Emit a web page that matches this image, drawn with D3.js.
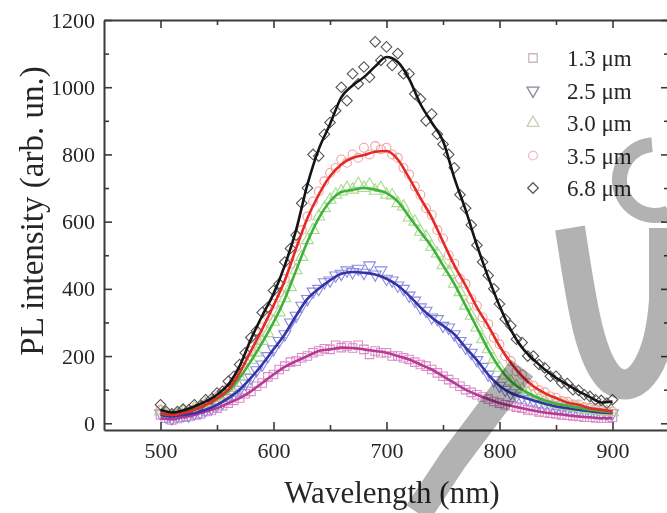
<!DOCTYPE html>
<html>
<head>
<meta charset="utf-8">
<script src="https://cdn.jsdelivr.net/npm/d3@7/dist/d3.min.js"></script>
<style>
  html, body { margin: 0; padding: 0; background: #fff; }
  svg { display: block; }
</style>
</head>
<body>
<svg id="chart" width="667" height="513"></svg>
<script>
// PL spectra for five layer thicknesses: measured points (every 5 nm) and smoothed fits (every 10 nm)
const series = ["1.3 μm", "2.5 μm", "3.0 μm", "3.5 μm", "6.8 μm"];
const xTicks = [500, 600, 700, 800, 900];
const yTicks = [0, 200, 400, 600, 800, 1000, 1200];

const pointWl = d3.range(500, 901, 5);
const fitWl = d3.range(500, 901, 10);

// measured points
const pts13 = [25,15,10,14,18,20,25,28,35,38,45,52,60,68,75,88,95,110,120,138,145,160,170,182,185,195,200,210,215,222,220,232,225,230,224,232,220,205,215,210,210,200,200,195,190,182,175,170,160,150,140,130,120,110,100,92,85,78,72,65,60,55,52,48,45,40,38,34,32,30,28,25,24,22,20,18,18,16,15,15,18];
const pts25 = [30,20,15,22,25,24,30,32,40,45,55,62,75,85,100,118,135,158,175,200,220,245,265,300,320,350,370,392,400,420,425,440,445,455,450,460,448,470,443,455,430,425,410,400,380,365,345,335,315,310,290,285,265,245,225,210,188,168,145,128,112,100,90,82,78,72,68,62,58,54,50,48,45,42,40,38,36,34,32,30,30];
const pts30 = [35,25,22,28,34,36,44,46,58,62,75,82,98,112,138,158,188,210,245,268,302,330,372,405,455,495,545,575,615,640,665,680,690,700,695,712,700,710,692,700,680,678,655,645,612,600,570,555,525,505,470,450,415,390,350,320,285,250,220,190,165,142,125,110,100,90,82,74,68,62,58,54,52,48,46,42,40,38,36,34,33];
const pts35 = [40,28,22,28,30,35,42,48,58,62,78,88,105,125,150,180,215,250,285,320,355,390,430,475,525,575,615,660,690,720,745,760,785,775,800,790,820,800,825,815,820,800,790,760,740,705,680,640,620,575,550,500,475,430,415,370,350,315,295,255,235,200,185,155,145,120,112,98,92,80,76,66,64,56,56,48,46,42,40,36,35];
const pts68 = [55,35,28,35,42,40,55,52,70,72,90,95,125,140,175,210,255,275,330,345,395,415,480,520,560,655,700,800,795,860,895,930,1000,960,1040,1010,1060,1030,1135,1080,1120,1065,1100,1040,1040,980,965,900,920,860,830,800,760,680,640,590,530,480,440,400,355,310,290,250,240,200,200,175,165,140,140,120,118,100,98,85,80,70,68,60,70];

// smoothed fits
const fit13 = [15,12,18,25,35,45,60,75,95,120,145,168,185,200,215,220,225,224,220,215,210,200,190,175,160,140,120,100,85,72,60,52,45,38,32,28,24,20,18,15,15];
const fit25 = [25,20,25,30,40,55,75,100,135,175,220,265,320,370,400,425,445,450,448,443,430,410,380,345,315,290,265,225,188,145,112,90,78,68,58,50,45,40,36,32,30];
const fit30 = [30,25,32,42,55,72,95,135,185,240,300,370,455,540,610,660,688,695,700,695,685,660,615,570,525,470,415,350,285,220,165,125,100,82,68,58,52,46,40,36,33];
const fit35 = [30,25,30,40,55,75,100,150,215,280,350,425,520,610,680,735,770,790,798,808,810,785,730,670,612,540,470,410,345,290,230,180,140,110,90,75,62,55,45,40,35];
const fit68 = [40,32,38,50,65,85,115,170,250,320,385,470,575,710,815,890,970,1005,1030,1062,1090,1075,1025,950,895,840,730,635,530,435,350,278,225,190,160,135,115,95,78,62,65];

const FONT = '"Liberation Serif", "DejaVu Serif", "Noto Serif", "Times New Roman", serif';
const INK = "#262626";

const W = 667, H = 513;
const x = d3.scaleLinear().domain([450, 950]).range([104, 669]);
const y = d3.scaleLinear().domain([-20, 1200]).range([430, 20]);

const svg = d3.select("#chart");
svg.append("rect").attr("width", W).attr("height", H).attr("fill", "#fff");

const square = d3.symbolSquare;
const styles = [
  { name: series[0], pts: pts13, fit: fit13, line: "#b43a92", mark: "#dc8cc8", shape: square, size: 72, rot: 0, legend: "#cdb6c4" },
  { name: series[1], pts: pts25, fit: fit25, line: "#3434a6", mark: "#8c8ce0", shape: d3.symbolTriangle, size: 62, rot: 180, legend: "#8a8a96" },
  { name: series[2], pts: pts30, fit: fit30, line: "#3fb23a", mark: "#a6dc8e", shape: d3.symbolTriangle, size: 62, rot: 0, legend: "#c6d2b6" },
  { name: series[3], pts: pts35, fit: fit35, line: "#e42a24", mark: "#f4a2a2", shape: d3.symbolCircle, size: 62, rot: 0, legend: "#efc0cc" },
  { name: series[4], pts: pts68, fit: fit68, line: "#141414", mark: "#555555", shape: square, size: 56, rot: 45, legend: "#5c5c5c" }
];

// clip to plotting frame
svg.append("clipPath").attr("id", "plotClip")
  .append("rect").attr("x", 104).attr("y", 20).attr("width", 565).attr("height", 410);

const plot = svg.append("g").attr("clip-path", "url(#plotClip)");

// open markers
styles.forEach(s => {
  const sym = d3.symbol().type(s.shape).size(s.size);
  plot.append("g").selectAll("path")
    .data(s.pts.map((v, i) => [pointWl[i], v]))
    .join("path")
    .attr("d", sym)
    .attr("transform", d => `translate(${x(d[0])},${y(d[1])}) rotate(${s.rot})`)
    .attr("fill", "none")
    .attr("stroke", s.mark)
    .attr("stroke-width", 1.1);
});

// fitted curves
const lineGen = d3.line().x(d => x(d[0])).y(d => y(d[1])).curve(d3.curveMonotoneX);
styles.forEach(s => {
  plot.append("path")
    .datum(s.fit.map((v, i) => [fitWl[i], v]))
    .attr("d", lineGen)
    .attr("fill", "none")
    .attr("stroke", s.line)
    .attr("stroke-width", 2.6)
    .attr("stroke-linejoin", "round");
});

// axes: inward ticks on all four sides
const xMinor = [550, 650, 750, 850];
const yMinor = [100, 300, 500, 700, 900, 1100];
const axisColor = "#3a3a3a";
const fmt = d3.format("d");

function styleAxis(g) {
  g.attr("font-family", FONT);
  g.selectAll("path.domain").attr("stroke", axisColor).attr("stroke-width", 2);
  g.selectAll(".tick line").attr("stroke", axisColor).attr("stroke-width", 1.6);
  g.selectAll(".tick text").attr("font-size", 22).attr("fill", INK).attr("font-family", FONT);
}

const gx = svg.append("g").attr("transform", "translate(0,430)")
  .call(d3.axisBottom(x).tickValues(xTicks).tickFormat(fmt).tickSize(-8).tickSizeOuter(0).tickPadding(12));
gx.append("g").call(d3.axisBottom(x).tickValues(xMinor).tickSize(-5).tickFormat(""))
  .select("path.domain").remove();
styleAxis(gx);

const gxTop = svg.append("g").attr("transform", "translate(0,20)")
  .call(d3.axisTop(x).tickValues(xTicks).tickSize(-8).tickSizeOuter(0).tickFormat(""));
gxTop.append("g").call(d3.axisTop(x).tickValues(xMinor).tickSize(-5).tickFormat(""))
  .select("path.domain").remove();
styleAxis(gxTop);

const gy = svg.append("g").attr("transform", "translate(104,0)")
  .call(d3.axisLeft(y).tickValues(yTicks).tickFormat(fmt).tickSize(-8).tickSizeOuter(0).tickPadding(9));
gy.append("g").call(d3.axisLeft(y).tickValues(yMinor).tickSize(-5).tickFormat(""))
  .select("path.domain").remove();
styleAxis(gy);

const gyRight = svg.append("g").attr("transform", "translate(669,0)")
  .call(d3.axisRight(y).tickValues(yTicks).tickSize(-8).tickSizeOuter(0).tickFormat(""));
gyRight.append("g").call(d3.axisRight(y).tickValues(yMinor).tickSize(-5).tickFormat(""))
  .select("path.domain").remove();
styleAxis(gyRight);

// axis titles
svg.append("text")
  .attr("x", 392).attr("y", 503)
  .attr("text-anchor", "middle")
  .attr("font-family", FONT).attr("fill", INK)
  .attr("font-size", 31)
  .text("Wavelength (nm)");

svg.append("text")
  .attr("transform", "translate(43,211) rotate(-90)")
  .attr("text-anchor", "middle")
  .attr("font-family", FONT).attr("fill", INK)
  .attr("font-size", 33)
  .text("PL intensity (arb. un.)");

// legend
const legend = svg.append("g");
styles.forEach((s, i) => {
  const cy = 58 + i * 32.5;
  const sym = d3.symbol().type(s.shape).size(s.size);
  legend.append("path")
    .attr("d", sym)
    .attr("transform", `translate(533,${cy}) rotate(${s.rot})`)
    .attr("fill", "none")
    .attr("stroke", s.legend)
    .attr("stroke-width", 1.3);
  legend.append("text")
    .attr("x", 567).attr("y", cy + 8)
    .attr("font-family", FONT).attr("fill", INK)
    .attr("font-size", 23)
    .text(s.name);
});

// grey stamp strokes laid over the figure
const STAMP = "#b2b2b2";
const stamp = svg.append("g")
  .style("mix-blend-mode", "multiply")
  .attr("fill", "none")
  .attr("stroke", STAMP)
  .attr("stroke-linecap", "butt");
// hook at the top right
stamp.append("path")
  .attr("transform", "translate(655,180)")
  .attr("stroke", "none").attr("fill", STAMP)
  .attr("d", d3.arc().innerRadius(28).outerRadius(43).startAngle(2.75).endAngle(6.2)());
// rounded bowl below it
stamp.append("path")
  .attr("stroke-width", 30)
  .attr("d", "M570,228 C580,290 588,360 612,380 C638,398 660,360 664,300 L664,228");
// long slanted bar near the bottom
stamp.append("path")
  .attr("stroke-width", 28)
  .attr("d", "M418,513 L453,460 L522,368");
</script>
</body>
</html>
